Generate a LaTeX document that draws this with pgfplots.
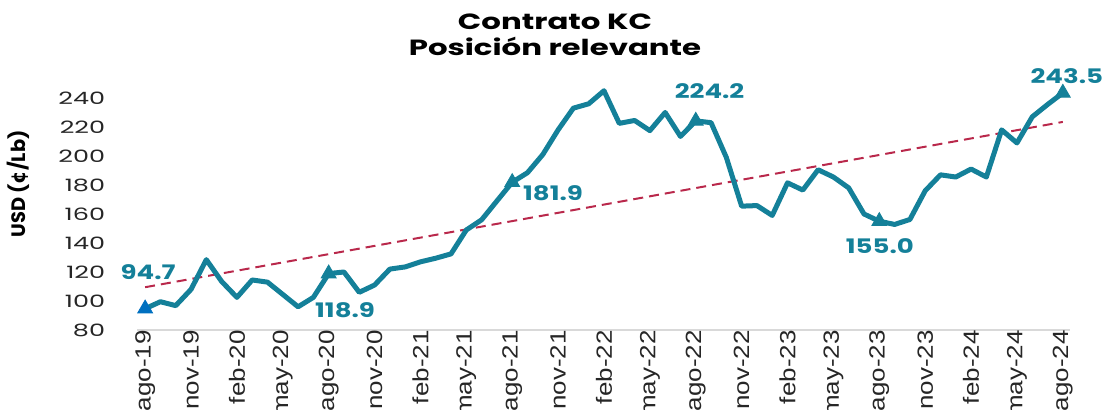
\documentclass[border=0pt]{standalone}
\usepackage{pgfplots}
\pgfplotsset{compat=1.18}
\usepackage{fontspec}
\setmainfont{Poppins}
\newfontfamily\titlefont{Poppins}[FakeStretch=1.4]
\newfontfamily\numfont{Poppins}[FakeStretch=1.5]
\newfontfamily\lblfont{Poppins}[FakeStretch=1.3]
\newfontfamily\xfont{Liberation Sans}[FakeStretch=1.18]
\newfontfamily\centfont{DejaVu Sans}
\definecolor{kcteal}{RGB}{20,128,153}
\definecolor{kcblue}{RGB}{0,112,192}
\definecolor{trendred}{RGB}{185,40,75}

\pgfplotstableread{
i val
0 94.7
1 99.5
2 96.8
3 108
4 128.5
5 113.5
6 102.5
7 114.5
8 113
9 104.5
10 96
11 102.5
12 118.9
13 120
14 106
15 111
16 122
17 123.5
18 127
19 129.5
20 132.5
21 149
22 156
23 169
24 181.9
25 188.5
26 201
27 218
28 233
29 236
30 245
31 222.5
32 224.5
33 217.5
34 230
35 213.5
36 224.2
37 223
38 199
39 165.4
40 165.8
41 159
42 181.5
43 176.5
44 190.5
45 185.5
46 178
47 160
48 155.0
49 152.8
50 156.2
51 176
52 187
53 185.5
54 191
55 185.5
56 218
57 209
58 227
59 235.5
60 243.5
}\kcdata

\newcommand{\ynum}[1]{\numfont\fontsize{8.5}{10}\selectfont #1}

\begin{document}
\begin{tikzpicture}
\path[use as bounding box] (-68.75pt,-40pt) rectangle (483.75pt,165pt);
\begin{axis}[
    at={(0,0)}, anchor=south west,
    scale only axis, width=466.5pt, height=123.25pt,
    xmin=-0.5, xmax=60.5, ymin=80, ymax=250,
    clip=false,
    axis lines*=left,
    y axis line style={draw=none},
    x axis line style={draw=black!15, line width=0.8pt},
    ytick={80,100,...,240},
    yticklabels={\ynum{80},\ynum{100},\ynum{120},\ynum{140},\ynum{160},\ynum{180},\ynum{200},\ynum{220},\ynum{240}},
    ytick style={draw=none},
    y tick label style={text=black!85, anchor=east, inner sep=0pt, xshift=-16pt},
    xtick={0,3,...,60},
    xticklabels={ago-19,nov-19,feb-20,may-20,ago-20,nov-20,feb-21,may-21,ago-21,nov-21,feb-22,may-22,ago-22,nov-22,feb-23,may-23,ago-23,nov-23,feb-24,may-24,ago-24},
    xtick style={draw=none},
    xticklabel style={font=\xfont\fontsize{11}{13}\selectfont, text=black!85, rotate=90, anchor=east, inner sep=0pt},
    extra x ticks={-0.5,2.5,...,59.5},
    extra x tick labels={},
    extra x tick style={major tick length=4pt, tick align=outside, tick style={draw=black!20, line width=0.8pt}},
]
\addplot[trendred, line width=1pt, dash pattern=on 5pt off 3pt] coordinates {(0,109.5) (60,223.5)};
\addplot[kcteal, line width=2.5pt, line join=round] table[x=i, y=val] {\kcdata};
\addplot[only marks, mark=triangle*, mark size=4.3pt, kcblue] coordinates {(0,94.7)};
\addplot[only marks, mark=triangle*, mark size=4.3pt, kcteal] coordinates {(12,118.9) (24,181.9) (36,224.2) (48,155.0) (60,243.5)};

\tikzset{lbl/.style={font=\lblfont\bfseries\fontsize{10}{12}\selectfont, text=kcteal, inner sep=0pt}}
\node[lbl] at (axis cs:0,94.7) [xshift=1.5pt, yshift=18.4pt] {94.7};
\node[lbl] at (axis cs:12,118.9) [xshift=8.2pt, yshift=-18.2pt] {118.9};
\node[lbl] at (axis cs:24,181.9) [xshift=20.4pt, yshift=-5.4pt] {181.9};
\node[lbl] at (axis cs:36,224.2) [xshift=6.9pt, yshift=15pt] {224.2};
\node[lbl] at (axis cs:48,155.0) [xshift=0.3pt, yshift=-12.4pt] {155.0};
\node[lbl] at (axis cs:60,243.5) [xshift=2pt, yshift=8.5pt] {243.5};
\end{axis}
\node[font=\titlefont\bfseries\fontsize{11}{13}\selectfont, align=center] at (208.75pt,147.5pt) {Contrato KC\\Posición relevante};
\node[font=\bfseries\fontsize{9.7}{12}\selectfont, rotate=90] at (-59.75pt,73pt) {USD ({\centfont\bfseries ¢}/Lb)};
\end{tikzpicture}
\end{document}
